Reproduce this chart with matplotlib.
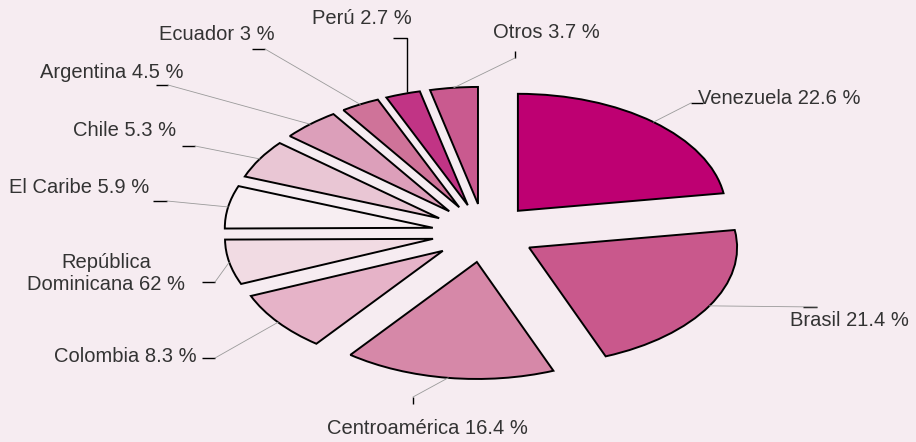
import numpy as np
import matplotlib.pyplot as plt

# shares by region, clockwise from 12 o'clock
regions = ['Venezuela', 'Brasil', 'Centroamérica', 'Colombia', 'República Dominicana',
           'El Caribe', 'Chile', 'Argentina', 'Ecuador', 'Perú', 'Otros']
shares = [22.6, 21.4, 16.4, 8.3, 6.2, 5.9, 5.3, 4.5, 3.0, 2.7, 3.7]
labels = ['Venezuela 22.6 %', 'Brasil 21.4 %', 'Centroamérica 16.4 %', 'Colombia 8.3 %',
          'República\nDominicana 62 %', 'El Caribe 5.9 %', 'Chile 5.3 %',
          'Argentina 4.5 %', 'Ecuador 3 %', 'Perú 2.7 %', 'Otros 3.7 %']
colors = ['#be0072', '#c9588c', '#d688a8', '#e6b3c8', '#f1dbe3', '#f7eef2',
          '#e9c6d4', '#dc9fba', '#cf7399', '#c13485', '#c95a8f']

bg = '#f6ecf1'
W, H = 916, 442
cx, cy, rx, ry = 484, 233, 208, 117   # pie centre and radii in pixels


def px(x, y):
    # pixel position (from top left) -> data coords
    return (x - cx) / rx, (cy - y) / ry


fig = plt.figure(figsize=(W / 100, H / 100), dpi=100, facecolor=bg)
ax = fig.add_axes([0, 0, 1, 1])
ax.set_facecolor(bg)

wedges, _ = ax.pie(shares, colors=colors, startangle=90, counterclock=False,
                   explode=[0.25] * len(shares),
                   wedgeprops=dict(edgecolor='black', linewidth=1.4, joinstyle='miter'))
ax.set_aspect('auto')
ax.set_xlim(-cx / rx, (W - cx) / rx)
ax.set_ylim((cy - H) / ry, cy / ry)
ax.axis('off')

# label layout: text pos, alignment, black tick, point where grey line meets tick
layout = [
    ((698, 98), 'left', [(691, 103), (703, 103)], (691, 103)),
    ((790, 321), 'left', [(803, 307), (817, 307)], (817, 307)),
    ((427, 428), 'center', [(413, 397), (413, 404)], (413, 397)),
    ((197, 356), 'right', [(202, 358), (215, 358)], (215, 358)),
    ((106, 273), 'center', [(202, 282), (215, 282)], (215, 282)),
    ((149, 188), 'right', [(153, 201), (167, 201)], (167, 201)),
    ((176, 131), 'right', [(182, 146), (195, 146)], (195, 146)),
    ((183, 72), 'right', [(156, 85), (168, 85)], (168, 85)),
    ((275, 35), 'right', [(252, 49), (265, 49)], (265, 49)),
    ((412, 19), 'right', [(393, 38), (407, 38), (407, 92)], None),
    ((493, 32), 'left', [(515, 51), (515, 58)], (515, 58)),
]

for w, lab, (tpos, ha, tick, join) in zip(wedges, labels, layout):
    mid = np.radians((w.theta1 + w.theta2) / 2)
    ax_, ay_ = w.center[0] + w.r * np.cos(mid), w.center[1] + w.r * np.sin(mid)
    tx, ty = px(*tpos)
    ax.text(tx, ty, lab, ha=ha, va='center', multialignment='center',
            fontsize=14.5, color='#333333', family='Liberation Sans')
    pts = np.array([px(*p) for p in tick])
    ax.plot(pts[:, 0], pts[:, 1], color='black', lw=1.0, solid_capstyle='butt')
    if join is not None:
        jx, jy = px(*join)
        ax.plot([ax_, jx], [ay_, jy], color='#9a9a9a', lw=0.6)

fig.savefig('out.png', dpi=100, facecolor=bg)
